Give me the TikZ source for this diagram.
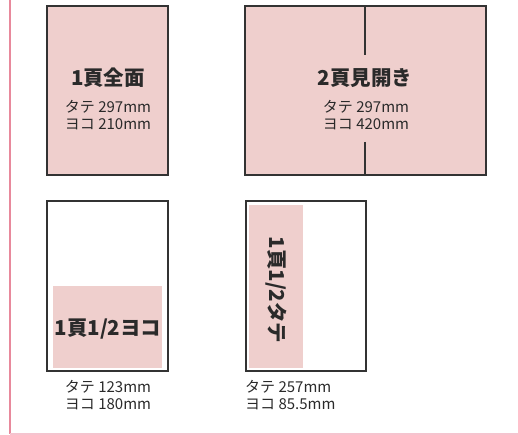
\documentclass[tikz,border=0pt]{standalone}
\usepackage{fontspec}
\setmainfont{Noto Sans CJK JP}
\definecolor{pinkfill}{HTML}{EFCFCD}
\definecolor{edge}{HTML}{333333}
\definecolor{txt}{HTML}{2A2A2A}
\definecolor{rule}{HTML}{E8899C}
\definecolor{rulelight}{HTML}{F5C4CF}
\tikzset{
  x=1pt,y=1pt,
  page/.style={draw=edge, line width=1.4pt},
  title/.style={font=\bfseries\fontsize{20.5}{23}\selectfont, text=txt, inner sep=0pt},
  dims/.style={font=\fontsize{15}{17}\selectfont, text=txt, align=center, inner sep=0pt},
  dimsl/.style={font=\fontsize{15}{17}\selectfont, text=txt, align=left, inner sep=0pt},
}
\begin{document}
\begin{tikzpicture}
\useasboundingbox (0,0) rectangle (518,-435);
% frame rules
\draw[rule, line width=2.5pt] (10,0) -- (10,-434);
\draw[rulelight, line width=1.6pt] (10,-434) -- (518,-434);
% box 1
\filldraw[page, fill=pinkfill] (47,-6) rectangle (168,-175);
\node[title] (t1) at (108,-78) {1頁全面};
\node[dims] (d1) at (108,-115.5) {タテ 297mm\\ヨコ 210mm};
% box 2
\filldraw[page, fill=pinkfill] (245,-6) rectangle (486,-175);
\coordinate (s1) at (365,-6);
\coordinate (s2) at (365,-55);
\coordinate (s3) at (365,-142);
\coordinate (s4) at (365,-175);
\draw[edge, line width=1.2pt] (s1) -- (s2);
\draw[edge, line width=1.2pt] (s3) -- (s4);
\node[title] (t2) at (365,-78) {2頁見開き};
\node[dims] (d2) at (366,-115.5) {タテ 297mm\\ヨコ 420mm};
% box 3
\draw[page, fill=white] (47,-201) rectangle (168,-371);
\fill[pinkfill] (53,-286) rectangle (162,-368);
\node[title] (t3) at (108,-329) {1頁1/2ヨコ};
\node[dims] (d3) at (108,-395.5) {タテ 123mm\\ヨコ 180mm};
% box 4
\draw[page, fill=white] (246,-201) rectangle (366,-371);
\fill[pinkfill] (249,-205) rectangle (303,-368);
\node[title, rotate=-90] (t4) at (276,-290) {1頁1/2タテ};
\node[dimsl, anchor=west] (d4) at (245,-395.5) {タテ 257mm\\ヨコ 85.5mm};
\end{tikzpicture}
\end{document}
